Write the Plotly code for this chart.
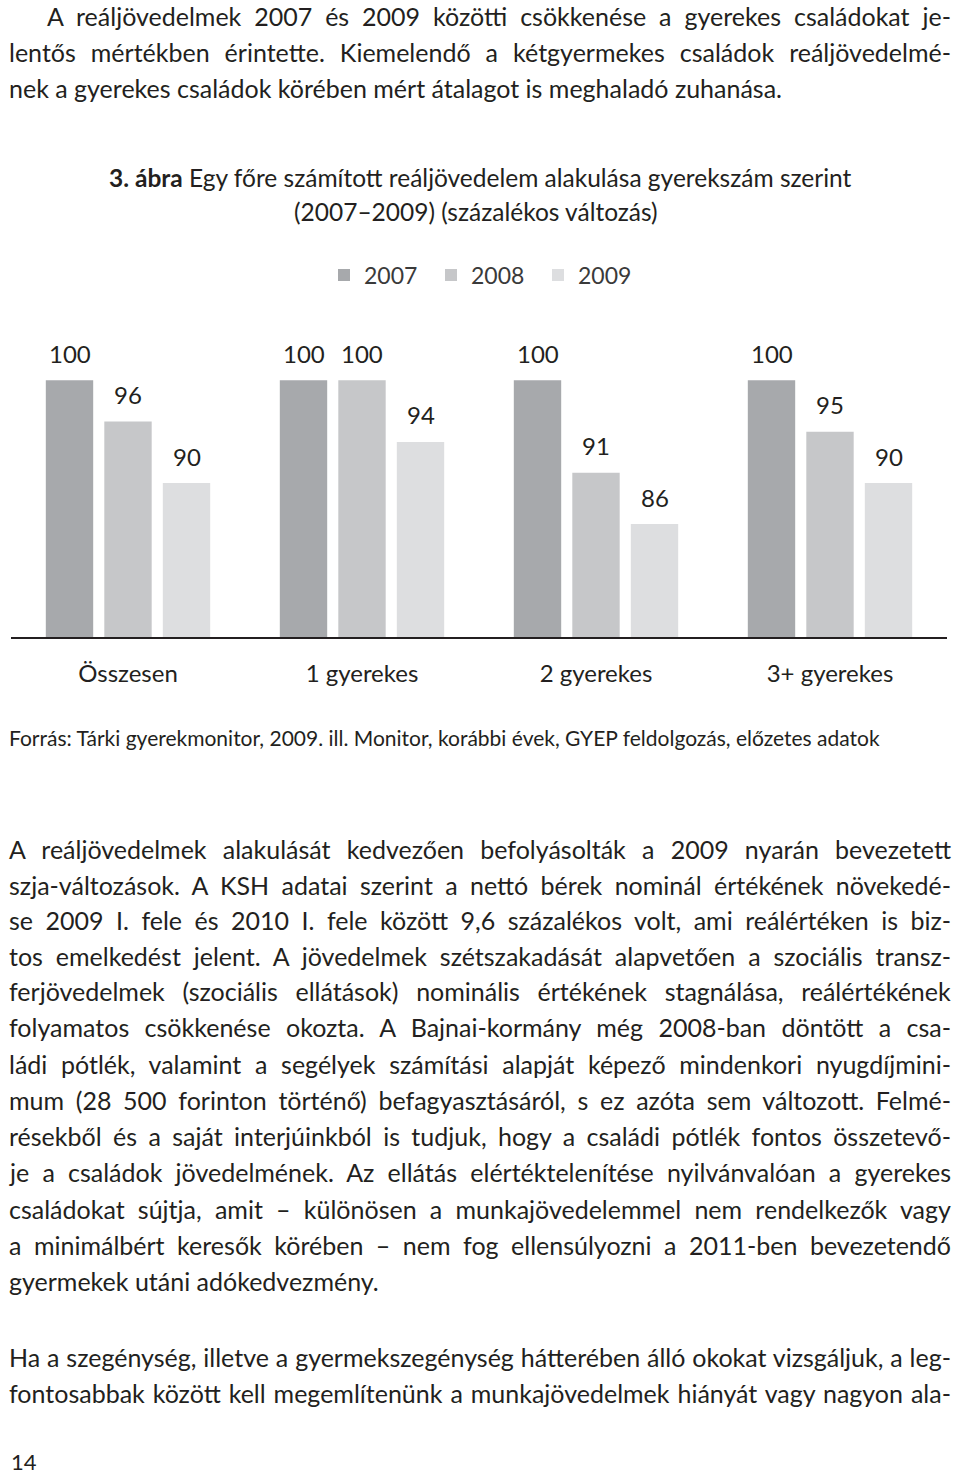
import json
import plotly.graph_objects as go

W, H = 960, 1478

categories = ["Összesen", "1 gyerekes", "2 gyerekes", "3+ gyerekes"]
years = ["2007", "2008", "2009"]
v2007 = [100, 100, 100, 100]
v2008 = [96, 100, 91, 95]
v2009 = [90, 94, 86, 90]
series_values = [v2007, v2008, v2009]
colors = ["#a7a9ac", "#c6c7c9", "#dddee0"]

para1 = [
    "A reáljövedelmek 2007 és 2009 közötti csökkenése a gyerekes családokat je-",
    "lentős mértékben érintette. Kiemelendő a kétgyermekes családok reáljövedelmé-",
    "nek a gyerekes családok körében mért átalagot is meghaladó zuhanása.",
]
title_lines = [
    "<b>3. ábra</b> Egy főre számított reáljövedelem alakulása gyerekszám szerint",
    "(2007–2009) (százalékos változás)",
]
source_text = "Forrás: Tárki gyerekmonitor, 2009. ill. Monitor, korábbi évek, GYEP feldolgozás, előzetes adatok"
para2 = [
    "A reáljövedelmek alakulását kedvezően befolyásolták a 2009 nyarán bevezetett",
    "szja-változások. A KSH adatai szerint a nettó bérek nominál értékének növekedé-",
    "se 2009 I. fele és 2010 I. fele között 9,6 százalékos volt, ami reálértéken is biz-",
    "tos emelkedést jelent. A jövedelmek szétszakadását alapvetően a szociális transz-",
    "ferjövedelmek (szociális ellátások) nominális értékének stagnálása, reálértékének",
    "folyamatos csökkenése okozta. A Bajnai-kormány még 2008-ban döntött a csa-",
    "ládi pótlék, valamint a segélyek számítási alapját képező mindenkori nyugdíjmini-",
    "mum (28 500 forinton történő) befagyasztásáról, s ez azóta sem változott. Felmé-",
    "résekből és a saját interjúinkból is tudjuk, hogy a családi pótlék fontos összetevő-",
    "je a családok jövedelmének. Az ellátás elértéktelenítése nyilvánvalóan a gyerekes",
    "családokat sújtja, amit – különösen a munkajövedelemmel nem rendelkezők vagy",
    "a minimálbért keresők körében – nem fog ellensúlyozni a 2011-ben bevezetendő",
    "gyermekek utáni adókedvezmény.",
]
para3 = [
    "Ha a szegénység, illetve a gyermekszegénység hátterében álló okokat vizsgáljuk, a leg-",
    "fontosabbak között kell megemlítenünk a munkajövedelmek hiányát vagy nagyon ala-",
]
page_number = "14"

FONT = "Lato"
TXT = "#231f20"
RIGHT = 951


def px(x):
    return x / W


def py(y):
    return 1 - y / H


fig = go.Figure()
for name, vals, col in zip(years, series_values, colors):
    fig.add_trace(go.Bar(x=categories, y=vals, name=name, marker=dict(color=col, line=dict(width=0)),
                         hoverinfo="x+y+name"))

annotations = []
justify = []
# data labels
for j, vals in enumerate(series_values):
    for c, v in zip(categories, vals):
        annotations.append(dict(x=c, y=v, xref="x", yref="y", text=str(v), showarrow=False,
                                xshift=(j - 1) * 58.5, yshift=27, yanchor="middle",
                                font=dict(family=FONT, size=24, color=TXT)))


def add_line(text, x, y, size, anchor="left", just=False, yanchor="middle"):
    if just:
        justify.append(len(annotations))
    annotations.append(dict(x=px(x), y=py(y), xref="paper", yref="paper", text=text,
                            showarrow=False, xanchor=anchor, yanchor=yanchor,
                            align=anchor if anchor != "center" else "center",
                            font=dict(family=FONT, size=size, color=TXT)))


p1y = [16, 52, 88]
for i, (t, y) in enumerate(zip(para1, p1y)):
    add_line(t, 45 if i == 0 else 7, y, 25, just=(i < 2))

add_line(title_lines[0], 480, 177, 24.5, "center")
add_line(title_lines[1], 476, 211, 24.5, "center")
add_line(source_text, 7, 737, 21)

p2y = [849, 885, 920, 956, 991, 1027, 1064, 1100, 1136, 1172, 1209, 1245, 1281]
for i, (t, y) in enumerate(zip(para2, p2y)):
    add_line(t, 7, y, 25, just=(i < len(para2) - 1))
for t, y in zip(para3, [1357, 1393]):
    add_line(t, 7, y, 25, just=True)
add_line(page_number, 9, 1477, 22, yanchor="bottom")

fig.update_layout(
    width=W, height=H,
    margin=dict(l=0, r=0, t=0, b=0),
    paper_bgcolor="white", plot_bgcolor="white",
    barmode="group", bargap=0.25, bargroupgap=0.19,
    font=dict(family=FONT, color=TXT),
    showlegend=True,
    legend=dict(orientation="h", x=px(324), xanchor="left", y=py(275), yanchor="middle",
                font=dict(family=FONT, size=23, color="#3a3a3a"),
                entrywidth=62, entrywidthmode="pixels", bgcolor="rgba(0,0,0,0)",
                traceorder="normal"),
    xaxis=dict(domain=[px(11), px(947)], showline=True, linecolor="#231f20", linewidth=2,
               ticks="", showgrid=False, zeroline=False,
               tickfont=dict(family=FONT, size=24, color=TXT), ticklabelstandoff=14),
    yaxis=dict(domain=[py(637), py(329)], range=[75, 105], visible=False, showgrid=False),
    annotations=annotations,
)

post = """
document.body.style.margin = '0';
var gd = document.getElementById('{plot_id}');
var J = %s;
var R = %d;
J.forEach(function (idx) {
  var t = gd.querySelector('g.annotation[data-index="' + idx + '"] text.annotation-text');
  if (!t) return;
  var n = (t.textContent.match(/ /g) || []).length;
  if (!n) return;
  t.style.wordSpacing = '0px';
  var r = t.getBoundingClientRect();
  var ws = (R - r.right) / n;
  t.style.wordSpacing = ws + 'px';
});
""" % (json.dumps(justify), RIGHT)

fig.write_html("out.html", post_script=post, config={"displayModeBar": False})
